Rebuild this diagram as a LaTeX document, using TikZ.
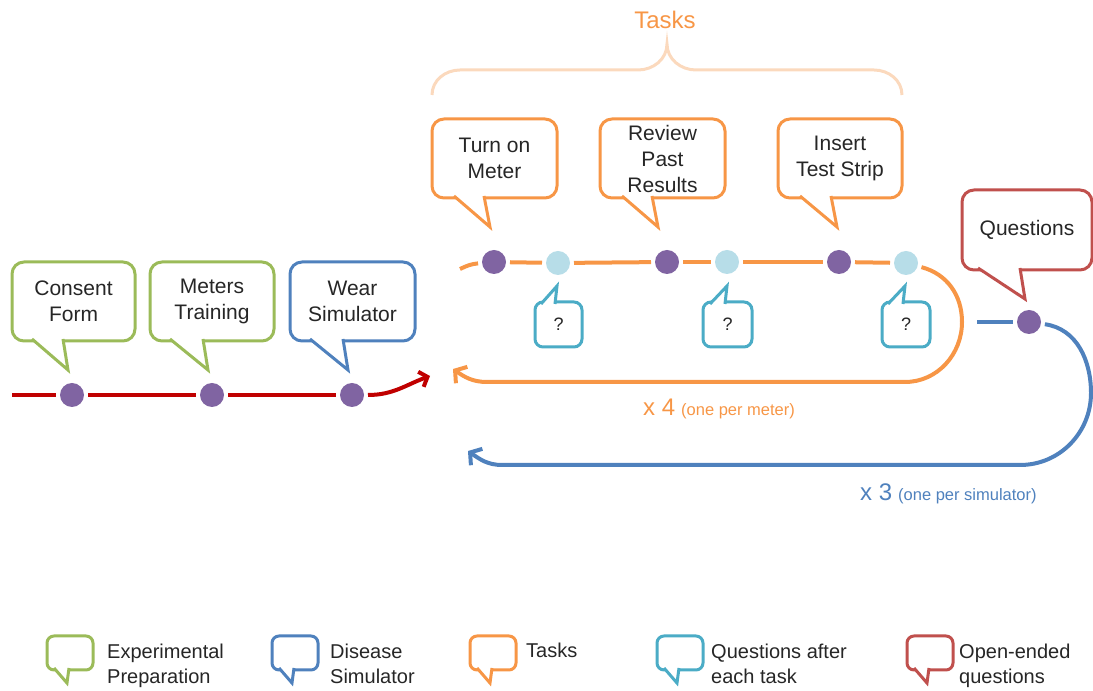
\documentclass[tikz,border=0pt]{standalone}
\usepackage{fontspec}
\setmainfont{Liberation Sans}
\usetikzlibrary{arrows.meta}
\definecolor{prepgreen}{HTML}{9BBB59}
\definecolor{simblue}{HTML}{4F81BD}
\definecolor{taskorange}{HTML}{F79646}
\definecolor{askcyan}{HTML}{4BACC6}
\definecolor{openred}{HTML}{C0504D}
\definecolor{dotpurple}{HTML}{8064A2}
\definecolor{dotcyan}{HTML}{B7DDE8}
\definecolor{prepred}{HTML}{C00000}
\definecolor{bracepeach}{HTML}{FBD9BD}
\definecolor{textgray}{HTML}{262626}
\tikzset{
  callout/.style={draw=#1, line width=3pt, rounded corners=12pt, fill=white,
    align=center, inner sep=0pt, text=textgray, font=\fontsize{21}{26}\selectfont},
  tail/.style={draw=#1, line width=3pt, fill=white},
  dot/.style={circle, fill=#1, minimum size=24pt, inner sep=0pt, outer sep=4pt},
  track/.style={draw=#1, line width=4pt},
  back/.style={track=#1, -{Straight Barb[length=8pt,width=20pt]}},
  legtext/.style={anchor=base west, align=left, inner sep=0pt, text=textgray,
    font=\fontsize{20}{26}\selectfont}
}
\begin{document}
\begin{tikzpicture}[x=1pt,y=1pt]
\useasboundingbox (0,0) rectangle (1093,691);
% tasks brace
\node [text=taskorange, font=\fontsize{24}{24}\selectfont] (tasktitle) at (665,671) {Tasks};
\draw [bracepeach, line width=3pt] (432,596) to[out=90,in=180] (460,621) -- (638,621)
  to[out=0,in=-90] (667,647) to[out=-90,in=180] (696,621) -- (874,621) to[out=0,in=90] (902,596);
% preparation row
\node [dot=dotpurple] (p1) at (72,296) {};
\node [dot=dotpurple] (p2) at (212,296) {};
\node [dot=dotpurple] (p3) at (352,296) {};
\coordinate (rstart) at (12,296);
\coordinate (rend) at (430,315);
\draw [track=prepred] (rstart) -- (p1);
\draw [track=prepred] (p1) -- (p2);
\draw [track=prepred] (p2) -- (p3);
\draw [track=prepred, -{Straight Barb[length=7pt,width=16pt]}] (p3) to[out=0,in=200] (rend);
\node [callout=prepgreen, minimum width=123pt, minimum height=79pt] (consent) at (73.5,389.5) {Consent\\Form};
\node [callout=prepgreen, minimum width=124pt, minimum height=79pt] (meters) at (212,389.5) {Meters\\Training};
\node [callout=simblue, minimum width=125pt, minimum height=79pt] (wear) at (352.5,389.5) {Wear\\Simulator};
\draw [tail=prepgreen] (32,352) -- (68,321) -- (63,352);
\draw [tail=prepgreen] (170,352) -- (208,321) -- (203,352);
\draw [tail=simblue] (310,352) -- (348,321) -- (343,352);
% task row
\node [dot=dotpurple] (t1) at (494,429) {};
\node [dot=dotcyan] (a1) at (558,428) {};
\node [dot=dotpurple] (t2) at (667,429) {};
\node [dot=dotcyan] (a2) at (727,429) {};
\node [dot=dotpurple] (t3) at (839,429) {};
\node [dot=dotcyan] (a3) at (906,428) {};
\coordinate (ostart) at (460,422);
\coordinate (oright) at (962,369);
\coordinate (obot) at (905,309);
\coordinate (obotl) at (487,309);
\coordinate (oend) at (453,322);
\draw [track=taskorange] (ostart) to[out=25,in=185] (t1);
\draw [track=taskorange] (t1) -- (a1);
\draw [track=taskorange] (a1) -- (t2);
\draw [track=taskorange] (t2) -- (a2);
\draw [track=taskorange] (a2) -- (t3);
\draw [track=taskorange] (t3) -- (a3);
\draw [back=taskorange] (a3) to[out=-15,in=90] (oright) to[out=-90,in=0] (obot) -- (obotl)
  to[out=180,in=-35] (oend);
\node [callout=taskorange, minimum width=125pt, minimum height=79pt] (turnon) at (494.5,532.5) {Turn on\\Meter};
\node [callout=taskorange, minimum width=125pt, minimum height=79pt] (review) at (662.5,532.5) {Review\\Past\\Results};
\node [callout=taskorange, minimum width=124pt, minimum height=79pt] (insert) at (840,532.5) {Insert\\Test Strip};
\draw [tail=taskorange] (454,495) -- (490,464) -- (484,495);
\draw [tail=taskorange] (622,495) -- (658,464) -- (652,495);
\draw [tail=taskorange] (800,495) -- (837,464) -- (831,495);
\node [callout=askcyan, minimum width=47pt, minimum height=45pt, rounded corners=8pt,
  font=\fontsize{18}{18}\selectfont] (q1) at (558.5,366.5) {?};
\node [callout=askcyan, minimum width=49pt, minimum height=45pt, rounded corners=8pt,
  font=\fontsize{18}{18}\selectfont] (q2) at (727.5,366.5) {?};
\node [callout=askcyan, minimum width=48pt, minimum height=45pt, rounded corners=8pt,
  font=\fontsize{18}{18}\selectfont] (q3) at (906,366.5) {?};
\draw [tail=askcyan] (541,387) -- (557,405) -- (555,387);
\draw [tail=askcyan] (710,387) -- (727,405) -- (725,387);
\draw [tail=askcyan] (888,387) -- (905,405) -- (903,387);
\node [text=taskorange, anchor=base west, inner sep=0pt] (perm) at (643,275)
  {{\fontsize{24}{24}\selectfont x 4}\hspace{6pt}{\fontsize{16.5}{16.5}\selectfont (one per meter)}};
% simulator loop
\node [dot=dotpurple] (qd) at (1029,369) {};
\coordinate (bstart) at (977,369);
\coordinate (bright) at (1091,298);
\coordinate (bbot) at (1020,226);
\coordinate (bbotl) at (502,226);
\coordinate (bend) at (468,240);
\draw [track=simblue] (bstart) -- (qd);
\draw [back=simblue] (qd) to[out=-8,in=90] (bright) to[out=-90,in=0] (bbot) -- (bbotl)
  to[out=180,in=-35] (bend);
\node [callout=openred, minimum width=130pt, minimum height=80pt] (questions) at (1027,461) {Questions};
\draw [tail=openred] (978,423) -- (1025,392) -- (1020,423);
\node [text=simblue, anchor=base west, inner sep=0pt] (persim) at (860,190)
  {{\fontsize{24}{24}\selectfont x 3}\hspace{6pt}{\fontsize{16.5}{16.5}\selectfont (one per simulator)}};
% legend
\foreach \dx/\col/\ty/\txt [count=\i] in {0/prepgreen/7/{Experimental\\Preparation},
    225/simblue/7/{Disease\\Simulator}, 423/taskorange/33/{Tasks},
    610/askcyan/7/{Questions after\\each task}, 860/openred/7/{Open-ended\\questions}} {
  \node [callout=\col, minimum width=46pt, minimum height=34pt, rounded corners=7pt] (legicon\i) at ({70+\dx},38) {};
  \draw [tail=\col] ({54+\dx},23) -- ({67+\dx},8) -- ({69+\dx},23);
  \node [legtext] (legtext\i) at ({107+\dx-2*\i+2},\ty) {\txt};
}
\end{tikzpicture}
\end{document}
